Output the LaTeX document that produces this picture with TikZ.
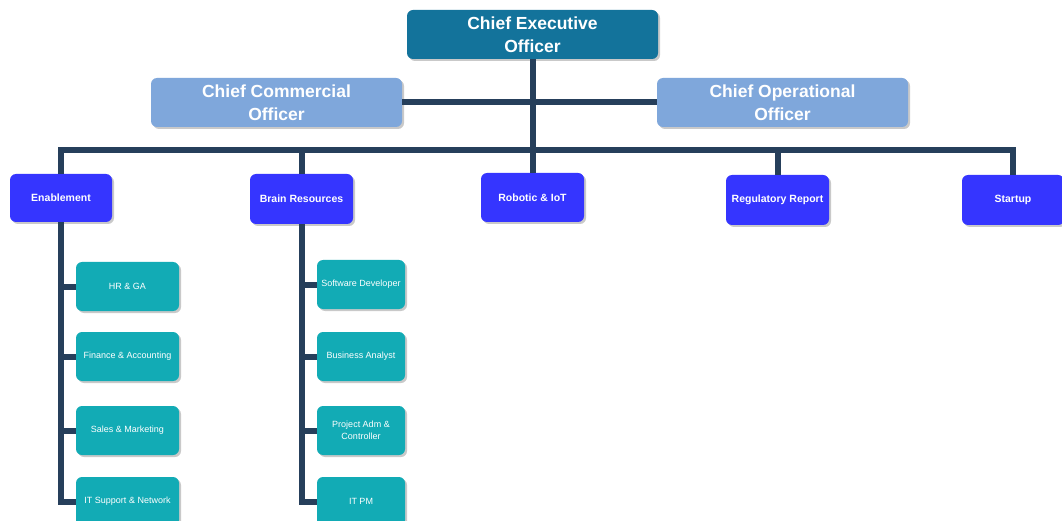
\documentclass[tikz,border=0pt]{standalone}
\usepackage{fontspec}
\setmainfont{Liberation Sans}
\usetikzlibrary{shadows}
\definecolor{ceoc}{HTML}{13739B}
\definecolor{cxoc}{HTML}{7FA7DB}
\definecolor{unitc}{HTML}{3535FF}
\definecolor{subc}{HTML}{12ABB5}
\definecolor{linec}{HTML}{263F5B}
\tikzset{
  box/.style={rounded corners=6pt, text=white, align=center, inner sep=0pt,
    drop shadow={shadow xshift=2pt, shadow yshift=-2pt, fill=black!35, opacity=0.6}},
  ceobox/.style={box, fill=ceoc, minimum width=251pt, minimum height=49pt,
    font=\fontsize{17.5}{23}\selectfont\bfseries},
  cxobox/.style={box, fill=cxoc, minimum width=251pt, minimum height=49pt,
    font=\fontsize{17.5}{23}\selectfont\bfseries},
  unitbox/.style={box, fill=unitc, minimum width=103pt, minimum height=49pt,
    font=\fontsize{10.5}{12}\selectfont\bfseries},
  subbox/.style={box, fill=subc, minimum height=49pt,
    font=\fontsize{9}{12.5}\selectfont},
  conn/.style={draw=linec, line width=6pt},
}
\begin{document}
\begin{tikzpicture}[x=1pt,y=-1pt]
\useasboundingbox[fill=white] (0,0) rectangle (1062,521);
\coordinate (bus) at (532.5,150);
\node[ceobox] (ceo) at (532.5,34.5) {Chief Executive\\Officer};
\node[cxobox] (cco) at (276.5,102.5) {Chief Commercial\\Officer};
\node[cxobox] (coo) at (782.5,102.5) {Chief Operational\\Officer};

\node[unitbox, minimum width=102pt, minimum height=48pt] (ena) at (61,198) {Enablement};
\node[unitbox, minimum height=50pt] (bra) at (301.5,199) {Brain Resources};
\node[unitbox] (rob) at (532.5,197.5) {Robotic \& IoT};
\node[unitbox, minimum height=50pt] (reg) at (777.5,200) {Regulatory Report};
\node[unitbox, minimum height=50pt, minimum width=102pt] (sta) at (1013,200) {Startup};

\node[subbox, minimum width=103pt] (hr) at (127.5,286.5) {HR \& GA};
\node[subbox, minimum width=103pt] (fin) at (127.5,356.5) {Finance \& Accounting};
\node[subbox, minimum width=103pt] (sal) at (127.5,430.5) {Sales \& Marketing};
\node[subbox, minimum width=103pt] (its) at (127.5,501.5) {IT Support \& Network};

\node[subbox, minimum width=88pt] (swd) at (361,284.5) {Software Developer};
\node[subbox, minimum width=88pt] (bna) at (361,356.5) {Business Analyst};
\node[subbox, minimum width=88pt] (pac) at (361,430.5) {Project Adm \&\\Controller};
\node[subbox, minimum width=88pt] (itp) at (361,501.5) {IT PM};

% connectors
\path[conn] (ceo.south) -- (bus);
\path[conn] (cco.east) -- (coo.west);
\path[conn, line join=miter] (ena.north) -- (ena.north |- bus) -- (sta.north |- bus) -- (sta.north);
\path[conn] (bra.north) -- (bra.north |- bus);
\path[conn] (rob.north) -- (rob.north |- bus);
\path[conn] (reg.north) -- (reg.north |- bus);

\path[conn, line join=miter] (ena.south) |- (its.west);
\path[conn] (ena.south |- hr.west) -- (hr.west);
\path[conn] (ena.south |- fin.west) -- (fin.west);
\path[conn] (ena.south |- sal.west) -- (sal.west);

\path[conn, line join=miter] (bra.south) |- (itp.west);
\path[conn] (bra.south |- swd.west) -- (swd.west);
\path[conn] (bra.south |- bna.west) -- (bna.west);
\path[conn] (bra.south |- pac.west) -- (pac.west);
\end{tikzpicture}
\end{document}
